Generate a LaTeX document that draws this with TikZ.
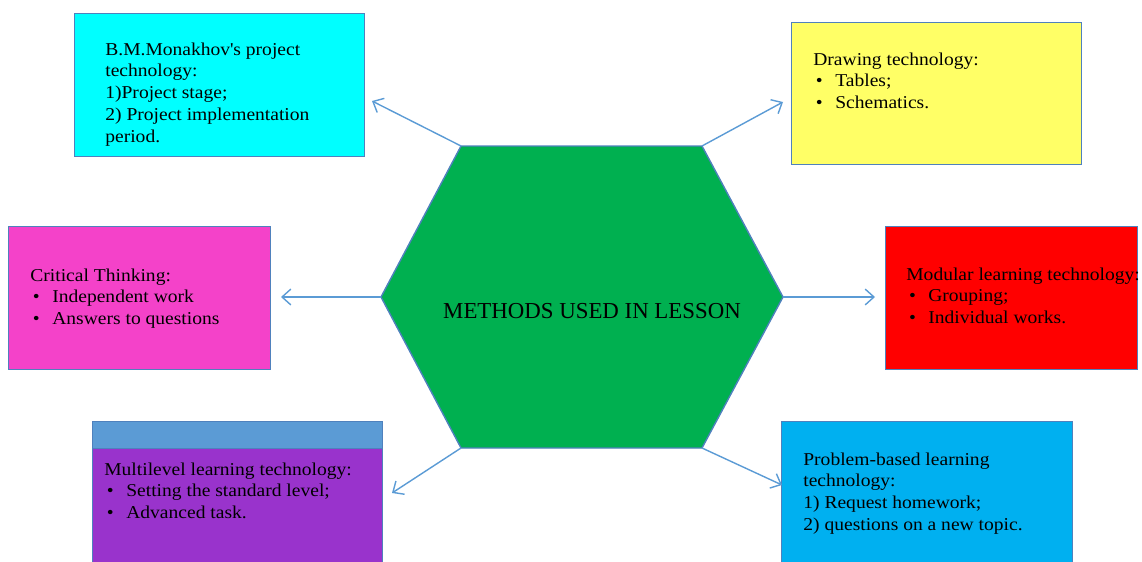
\documentclass[tikz,border=0pt]{standalone}
\usepackage{fontspec}
\setmainfont{Liberation Serif}[FakeStretch=1.08]
\newfontfamily\hexfont{Liberation Serif}
\usetikzlibrary{arrows.meta}

\definecolor{edgeblue}{RGB}{79,129,189}
\definecolor{linkblue}{RGB}{91,155,213}
\definecolor{hexgreen}{RGB}{0,176,80}
\definecolor{boxcyan}{RGB}{0,255,255}
\definecolor{boxyellow}{RGB}{255,255,102}
\definecolor{boxpink}{RGB}{244,66,201}
\definecolor{boxred}{RGB}{255,0,0}
\definecolor{boxpurple}{RGB}{153,51,204}
\definecolor{boxbar}{RGB}{91,155,213}
\definecolor{boxblue}{RGB}{0,176,240}

\tikzset{
  box/.style={draw=edgeblue, line width=0.8pt, anchor=north west, inner sep=0pt},
  txt/.style={anchor=base west, inner sep=0pt, font=\fontsize{10.3}{12.5}\selectfont},
  link/.style={draw=linkblue, line width=0.8pt, -{Straight Barb[length=5pt,width=9pt]}}
}
\newcommand\itm[1]{\makebox[12.5pt][l]{\hspace{1.5pt}\textbullet}#1}

\begin{document}
\begin{tikzpicture}
        [x=0.02cm,y=-0.02cm]
        \useasboundingbox (0,0) rectangle (1142,561);

        % boxes
        \node[box,fill=boxcyan,minimum width=5.8cm,minimum height=2.86cm] (monakhov) at (74,13) {};
        \node[box,fill=boxyellow,minimum width=5.8cm,minimum height=2.84cm] (drawing) at (791,22) {};
        \node[box,fill=boxpink,minimum width=5.24cm,minimum height=2.86cm] (critical) at (8,226) {};
        \node[box,fill=boxred,minimum width=5.04cm,minimum height=2.86cm] (modular) at (885,226) {};
        \node[box,fill=boxpurple,minimum width=5.8cm,minimum height=3cm] (multilevel) at (92,421) {};
        \node[box,fill=boxbar,minimum width=5.8cm,minimum height=0.54cm] (bar) at (92,421) {};
        \node[box,fill=boxblue,minimum width=5.82cm,minimum height=3cm] (problem) at (781,421) {};

        \node[txt] (monakhovtxt) at (105,55) {\begin{tabular}[t]{@{}l@{}}B.M.Monakhov\textquotesingle s project\\ technology:\\ 1)Project stage;\\ 2) Project implementation\\ period.\end{tabular}};
        \node[txt] (drawingtxt) at (813,65) {\begin{tabular}[t]{@{}l@{}}Drawing technology:\\ \itm{Tables;}\\ \itm{Schematics.}\end{tabular}};
        \node[txt] (criticaltxt) at (30,281) {\begin{tabular}[t]{@{}l@{}}Critical Thinking:\\ \itm{Independent work}\\ \itm{Answers to questions}\end{tabular}};
        \node[txt] (modulartxt) at (906,280) {\begin{tabular}[t]{@{}l@{}}Modular learning technology:\\ \itm{Grouping;}\\ \itm{Individual works.}\end{tabular}};
        \node[txt] (multileveltxt) at (104,475) {\begin{tabular}[t]{@{}l@{}}Multilevel learning technology:\\ \itm{Setting the standard level;}\\ \itm{Advanced task.}\end{tabular}};
        \node[txt] (problemtxt) at (803,465) {\begin{tabular}[t]{@{}l@{}}Problem-based learning\\ technology:\\ 1) Request homework;\\ 2) questions on a new topic.\end{tabular}};

        % hexagon
        \coordinate (hexW) at (381,297);
        \coordinate (hexNW) at (461,146);
        \coordinate (hexNE) at (702,146);
        \coordinate (hexE) at (783,297);
        \coordinate (hexSE) at (702,448);
        \coordinate (hexSW) at (461,448);
        \draw[draw=edgeblue,line width=0.8pt,fill=hexgreen] (hexW) -- (hexNW) -- (hexNE) -- (hexE) -- (hexSE) -- (hexSW) -- cycle;
        \node[inner sep=0pt,font=\hexfont\fontsize{13}{15}\selectfont] (title) at (592,311) {METHODS USED IN LESSON};

        % arrows
        \coordinate (toNW) at (372,101);
        \coordinate (toNE) at (783,102);
        \coordinate (toW) at (281,297);
        \coordinate (toE) at (875,297);
        \coordinate (toSW) at (392,493);
        \coordinate (toSE) at (782,485);
        \draw[link] (hexNW) -- (toNW);
        \draw[link] (hexNE) -- (toNE);
        \draw[link] (hexW) -- (toW);
        \draw[link] (hexE) -- (toE);
        \draw[link] (hexSW) -- (toSW);
        \draw[link] (hexSE) -- (toSE);
      \end{tikzpicture}
\end{document}
